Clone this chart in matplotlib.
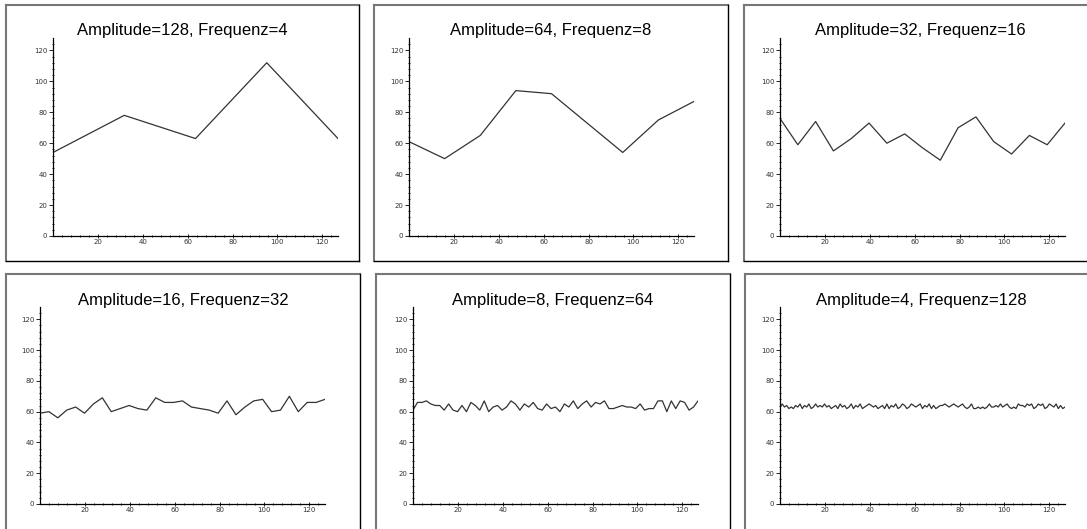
import numpy as np
import matplotlib
matplotlib.use("Agg")
import matplotlib.pyplot as plt
from matplotlib.lines import Line2D

W, H = 1087, 529

# amplitude / frequency per panel
amplitudes = [128, 64, 32, 16, 8, 4]
frequencies = [4, 8, 16, 32, 64, 128]

# values (one sample per frequency step, 0..127)
vals_4 = [54, 78, 63, 112, 63]
vals_8 = [61, 50, 65, 94, 92, 73, 54, 75, 87]
vals_16 = [76, 59, 74, 55, 63, 73, 60, 66, 57, 49, 70, 77, 61, 53, 65, 59, 73]
vals_32 = [59, 60, 56, 61, 63, 59, 65, 69, 60, 62, 64, 62, 61, 69, 66, 66, 67,
           63, 62, 61, 59, 67, 58, 63, 67, 68, 60, 61, 70, 60, 66, 66, 68]
vals_64 = [61, 66, 66, 67, 65, 64, 64, 61, 65, 61,
           60, 64, 60, 66, 64, 61, 67, 60, 63, 64,
           61, 63, 67, 65, 61, 65, 63, 66, 62, 61,
           65, 62, 63, 60, 65, 63, 67, 62, 65, 67,
           63, 66, 65, 67, 62, 62, 63, 64, 63, 63,
           62, 65, 61, 62, 62, 67, 67, 60, 67, 62,
           67, 66, 61, 63, 67]
vals_128 = [63, 65, 63, 64, 62, 63, 62, 64, 63, 65, 62, 64, 63, 65, 62, 63, 65, 63, 64, 63,
            65, 63, 64, 62, 63, 64, 62, 65, 63, 64, 62, 63, 65, 62, 64, 63, 65, 62, 63, 64,
            65, 64, 63, 64, 62, 63, 64, 62, 65, 62, 64, 63, 65, 62, 63, 65, 64, 62, 63, 65,
            64, 63, 64, 65, 62, 64, 63, 65, 62, 64, 62, 63, 64, 64, 65, 64, 63, 64, 65, 64,
            63, 64, 65, 63, 62, 63, 65, 62, 62, 63, 62, 63, 62, 63, 65, 63, 63, 64, 63, 65,
            63, 64, 65, 63, 62, 63, 62, 65, 64, 64, 63, 65, 64, 65, 62, 63, 65, 64, 65, 62,
            63, 65, 64, 63, 65, 62, 64, 62, 63]
series = [vals_4, vals_8, vals_16, vals_32, vals_64, vals_128]

# layout in pixels: panel box (x0, x1, y0, y1) and axes (left, right, top, bottom)
boxes = [(6, 359, 5, 261), (374, 728, 5, 261), (744, 1098, 5, 261),
         (6, 360, 274, 540), (376, 730, 274, 540), (745, 1099, 274, 540)]
axes_px = [(53, 338, 38, 236), (409, 694, 38, 236), (780, 1065, 38, 236),
           (40, 325, 307, 504), (413, 698, 307, 504), (780, 1065, 307, 504)]


def fx(px):
    return px / W


def fy(py):
    return 1 - py / H


fig = plt.figure(figsize=(W / 100, H / 100), dpi=100)

for i in range(6):
    x0, x1, y0, y1 = boxes[i]
    # box border: grey top/left, black bottom/right
    fig.add_artist(Line2D([fx(x0), fx(x1)], [fy(y0), fy(y0)], color="#777777", lw=1.5))
    fig.add_artist(Line2D([fx(x0), fx(x0)], [fy(y0), fy(y1)], color="#777777", lw=1.5))
    fig.add_artist(Line2D([fx(x0), fx(x1)], [fy(y1), fy(y1)], color="black", lw=1.0))
    fig.add_artist(Line2D([fx(x1), fx(x1)], [fy(y0), fy(y1)], color="black", lw=1.0))

    l, r, t, b = axes_px[i]
    ax = fig.add_axes([fx(l), fy(b), fx(r - l), (b - t) / H])
    vals = series[i]
    x = np.linspace(0, 127, len(vals))
    ax.plot(x, vals, color="#333333", lw=0.9)
    ax.set_xlim(0, 127)
    ax.set_ylim(0, 128)
    for s in ["top", "right"]:
        ax.spines[s].set_visible(False)
    ax.spines["left"].set_linewidth(0.9)
    ax.spines["bottom"].set_linewidth(0.9)
    ax.set_xticks([20, 40, 60, 80, 100, 120])
    ax.set_yticks([0, 20, 40, 60, 80, 100, 120])
    ax.set_xticks(np.arange(4, 127, 4), minor=True)
    ax.set_yticks(np.arange(4, 128, 4), minor=True)
    ax.tick_params(axis="both", which="major", labelsize=5, labelcolor="#333333",
                   length=3, width=0.6, pad=1)
    ax.tick_params(axis="both", which="minor", length=1.5, width=0.6, direction="inout")
    ax.tick_params(axis="x", which="major", direction="inout")

    cx = (x0 + x1) / 2
    if x1 > W:
        cx = (x0 + x0 + 353) / 2
    fig.text(fx(cx), fy(y0 + 26), "Amplitude=%d, Frequenz=%d" % (amplitudes[i], frequencies[i]),
             ha="center", va="center", fontsize=12, family="Liberation Sans")

fig.savefig("out.png", dpi=100)
